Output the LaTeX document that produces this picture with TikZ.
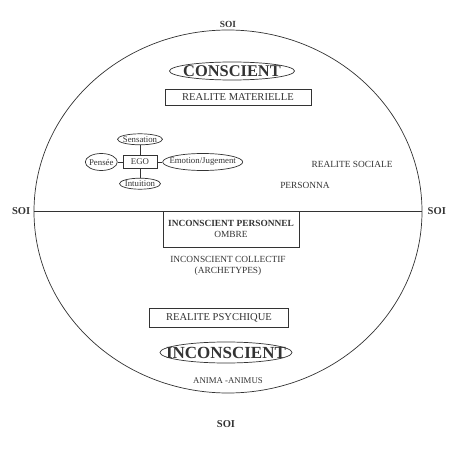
\documentclass[tikz,border=0pt]{standalone}
\usepackage{fontspec}
\setmainfont{Liberation Serif}
\usetikzlibrary{shapes.geometric, positioning}

\begin{document}
\begin{tikzpicture}[x=0.03cm, y=-0.03cm, line width=0.6pt, color=black!80,
    soi/.style={inner sep=0pt, font=\fontsize{9}{10}\selectfont\bfseries},
    titleoval/.style={draw, ellipse, inner xsep=-20pt, inner ysep=0pt, font=\fontsize{14}{16}\selectfont\bfseries},
    realbox/.style={draw, rectangle, inner sep=0pt, font=\fontsize{9}{10}\selectfont},
    txt/.style={inner sep=0pt, align=center, font=\fontsize{8}{9.2}\selectfont},
    egobox/.style={draw, rectangle, inner sep=0pt, minimum width=1.02cm, minimum height=0.39cm, font=\fontsize{7.5}{9}\selectfont},
    fn/.style={draw, ellipse, inner xsep=-6pt, inner ysep=0pt, font=\fontsize{7.5}{9}\selectfont}]
    \useasboundingbox (0,0) rectangle (470,450);
    % le soi
    \node[draw, ellipse, inner sep=0pt, minimum width=11.64cm, minimum height=10.89cm] (ring) at (228,211.5) {};
    \draw (ring.west) -- (ring.east);
    \node[soi, font=\fontsize{8}{9}\selectfont\bfseries] (soiN) at (228,24) {SOI};
    \node[soi, left=0.09cm of ring.west] (soiW) {SOI};
    \node[soi, right=0.15cm of ring.east] (soiE) {SOI};
    \node[soi] (soiS) at (226,424) {SOI};
    % partie consciente
    \node[titleoval, minimum width=3.75cm, minimum height=0.54cm] (consc) at (232,71) {CONSCIENT};
    \node[realbox, minimum width=4.38cm, minimum height=0.48cm] (matter) at (238,97) {REALITE MATERIELLE};
    \node[egobox] (ego) at (140,162) {EGO};
    \node[fn, minimum width=1.35cm, minimum height=0.33cm, above=0.3cm of ego] (sens) {Sensation};
    \node[fn, minimum width=1.23cm, minimum height=0.33cm, below=0.27cm of ego] (intu) {Intuition};
    \node[fn, minimum width=0.96cm, minimum height=0.51cm, left=0.15cm of ego] (pens) {Pensée};
    \node[fn, minimum width=2.4cm, minimum height=0.51cm, right=0.15cm of ego] (emo) {Emotion/Jugement};
    \draw (ego) -- (sens);
    \draw (ego) -- (intu);
    \draw (ego) -- (pens);
    \draw (ego) -- (emo);
    \node[txt] (social) at (352,164) {REALITE SOCIALE};
    \node[txt] (persona) at (305,185) {PERSONNA};
    % partie inconsciente
    \node[draw, rectangle, txt, minimum width=4.08cm, minimum height=1.08cm] (ombre) at (231,229) {\textbf{INCONSCIENT PERSONNEL}\\OMBRE};
    \node[txt, font=\fontsize{8}{9.5}\selectfont] (collectif) at (228,265.5) {INCONSCIENT COLLECTIF\\(ARCHETYPES)};
    \node[realbox, minimum width=4.17cm, minimum height=0.57cm] (psy) at (219,317.5) {REALITE PSYCHIQUE};
    \node[titleoval, font=\fontsize{14.5}{16}\selectfont\bfseries, minimum width=3.96cm, minimum height=0.63cm] (inconsc) at (226,352.5) {INCONSCIENT};
    \node[txt, font=\fontsize{7.5}{9}\selectfont] (anima) at (228,381) {ANIMA -ANIMUS};
\end{tikzpicture}
\end{document}
